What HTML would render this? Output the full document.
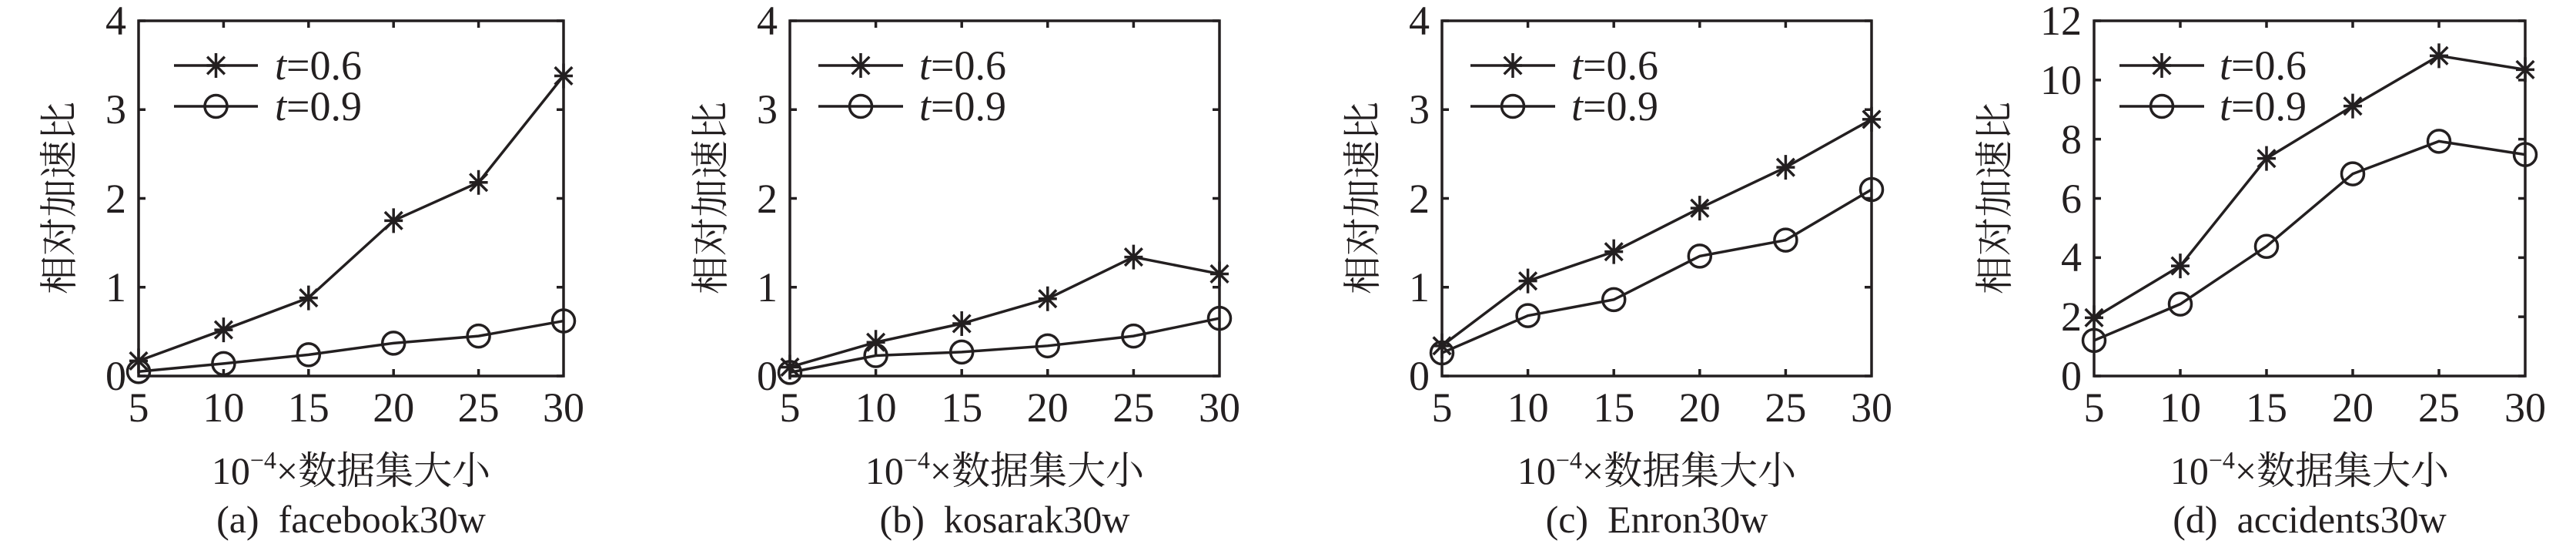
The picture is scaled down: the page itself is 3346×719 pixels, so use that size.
<!DOCTYPE html>
<html><head><meta charset="utf-8"><style>
html,body{margin:0;padding:0;background:#fff;overflow:hidden;}
svg{display:block;}
text{font-family:"Liberation Serif","Noto Serif CJK SC",serif;fill:#231f20;}
.t{font-size:54px;}
.c{font-size:50px;}
.cj{font-family:"Liberation Serif","Noto Serif CJK SC",serif;font-size:50px;}
</style></head><body>
<svg id="s" width="3346" height="719" viewBox="0 0 3346 719" xmlns="http://www.w3.org/2000/svg">
<rect width="3346" height="719" fill="#fff"/>
<!-- panel a -->
<g transform="translate(180,0)">
<g class="t" text-anchor="end"><text x="-16" y="506">0</text><text x="-16" y="391">1</text><text x="-16" y="276">2</text><text x="-16" y="160">3</text><text x="-16" y="45">4</text></g>
<g class="t" text-anchor="middle"><text x="0" y="547">5</text><text x="110.4" y="547">10</text><text x="220.8" y="547">15</text><text x="331.2" y="547">20</text><text x="441.6" y="547">25</text><text x="552" y="547">30</text></g>
<text class="cj" transform="translate(-86,257) rotate(-90)" text-anchor="middle">相对加速比</text>
<text class="cj" x="276" y="628" text-anchor="middle">10<tspan font-size="32" dy="-20">−4</tspan><tspan dy="20">×数据集大小</tspan></text>
<text class="c" x="276" y="691" text-anchor="middle" xml:space="preserve">(a)  facebook30w</text>
<text class="t" x="177" y="103"><tspan font-style="italic">t</tspan>=0.6</text>
<text class="t" x="177" y="156"><tspan font-style="italic">t</tspan>=0.9</text>
</g>
<!-- panel b -->
<g transform="translate(1026,0)">
<g class="t" text-anchor="end"><text x="-16" y="506">0</text><text x="-16" y="391">1</text><text x="-16" y="276">2</text><text x="-16" y="160">3</text><text x="-16" y="45">4</text></g>
<g class="t" text-anchor="middle"><text x="0" y="547">5</text><text x="111.6" y="547">10</text><text x="223.2" y="547">15</text><text x="334.8" y="547">20</text><text x="446.4" y="547">25</text><text x="558" y="547">30</text></g>
<text class="cj" transform="translate(-86,257) rotate(-90)" text-anchor="middle">相对加速比</text>
<text class="cj" x="279" y="628" text-anchor="middle">10<tspan font-size="32" dy="-20">−4</tspan><tspan dy="20">×数据集大小</tspan></text>
<text class="c" x="279" y="691" text-anchor="middle" xml:space="preserve">(b)  kosarak30w</text>
<text class="t" x="168" y="103"><tspan font-style="italic">t</tspan>=0.6</text>
<text class="t" x="168" y="156"><tspan font-style="italic">t</tspan>=0.9</text>
</g>
<!-- panel c -->
<g transform="translate(1873,0)">
<g class="t" text-anchor="end"><text x="-16" y="506">0</text><text x="-16" y="391">1</text><text x="-16" y="276">2</text><text x="-16" y="160">3</text><text x="-16" y="45">4</text></g>
<g class="t" text-anchor="middle"><text x="0" y="547">5</text><text x="111.6" y="547">10</text><text x="223.2" y="547">15</text><text x="334.8" y="547">20</text><text x="446.4" y="547">25</text><text x="558" y="547">30</text></g>
<text class="cj" transform="translate(-86,257) rotate(-90)" text-anchor="middle">相对加速比</text>
<text class="cj" x="279" y="628" text-anchor="middle">10<tspan font-size="32" dy="-20">−4</tspan><tspan dy="20">×数据集大小</tspan></text>
<text class="c" x="279" y="691" text-anchor="middle" xml:space="preserve">(c)  Enron30w</text>
<text class="t" x="168" y="103"><tspan font-style="italic">t</tspan>=0.6</text>
<text class="t" x="168" y="156"><tspan font-style="italic">t</tspan>=0.9</text>
</g>
<!-- panel d -->
<g transform="translate(2720,0)">
<g class="t" text-anchor="end"><text x="-16" y="506">0</text><text x="-16" y="429">2</text><text x="-16" y="352">4</text><text x="-16" y="276">6</text><text x="-16" y="199">8</text><text x="-16" y="122">10</text><text x="-16" y="45">12</text></g>
<g class="t" text-anchor="middle"><text x="0" y="547">5</text><text x="112" y="547">10</text><text x="224" y="547">15</text><text x="336" y="547">20</text><text x="448" y="547">25</text><text x="560" y="547">30</text></g>
<text class="cj" transform="translate(-112,257) rotate(-90)" text-anchor="middle">相对加速比</text>
<text class="cj" x="280" y="628" text-anchor="middle">10<tspan font-size="32" dy="-20">−4</tspan><tspan dy="20">×数据集大小</tspan></text>
<text class="c" x="280" y="691" text-anchor="middle" xml:space="preserve">(d)  accidents30w</text>
<text class="t" x="163" y="103"><tspan font-style="italic">t</tspan>=0.6</text>
<text class="t" x="163" y="156"><tspan font-style="italic">t</tspan>=0.9</text>
</g>
<g id="geo" stroke="#231f20" stroke-width="3.5" fill="none"></g>
</svg>
<script>
var P=[
 {l:180,w:552,m:4,yt:[0,1,2,3,4],lg:[46,155],a:[0.17,0.52,0.88,1.75,2.18,3.38],b:[0.05,0.14,0.24,0.37,0.45,0.62]},
 {l:1026,w:558,m:4,yt:[0,1,2,3,4],lg:[37,147],a:[0.1,0.38,0.59,0.87,1.34,1.15],b:[0.04,0.23,0.27,0.34,0.45,0.65]},
 {l:1873,w:558,m:4,yt:[0,1,2,3,4],lg:[37,147],a:[0.34,1.07,1.40,1.89,2.35,2.89],b:[0.26,0.68,0.86,1.35,1.53,2.10]},
 {l:2720,w:560,m:12,yt:[0,2,4,6,8,10,12],lg:[33,143],a:[1.97,3.72,7.35,9.12,10.82,10.35],b:[1.2,2.43,4.38,6.83,7.93,7.48]}
];
var T=27,B=488,g=document.getElementById('geo'),h='';
function star(x,y){var r=16,s='';for(var k=0;k<4;k++){var a=k*Math.PI/4,dx=r*Math.cos(a),dy=r*Math.sin(a);if(k==0){dx=r*0.75;}s+='M'+(x-dx)+' '+(y-dy)+'L'+(x+dx)+' '+(y+dy);}return '<path d="'+s+'"/>';}
function circ(x,y){return '<circle cx="'+x+'" cy="'+y+'" r="14.5" fill="none"/>';}
P.forEach(function(p){
 var L=p.l,R=p.l+p.w;
 h+='<rect x="'+L+'" y="'+T+'" width="'+p.w+'" height="'+(B-T)+'"/>';
 for(var i=1;i<5;i++){var x=L+i*p.w/5;h+='<path d="M'+x+' '+B+'v-9M'+x+' '+T+'v9"/>';}
 p.yt.forEach(function(v){var y=B-(B-T)*v/p.m;h+='<path d="M'+L+' '+y+'h9M'+R+' '+y+'h-9"/>';});
 [p.a,p.b].forEach(function(d,si){
  var pts=d.map(function(v,i){return [L+i*p.w/5,B-(B-T)*v/p.m];});
  h+='<polyline points="'+pts.map(function(q){return q.join(',')}).join(' ')+'"/>';
  pts.forEach(function(q){h+=si?circ(q[0],q[1]):star(q[0],q[1]);});
  var ly=si?138:85,x1=L+p.lg[0],x2=L+p.lg[1],xm=(x1+x2)/2;
  h+='<path d="M'+x1+' '+ly+'H'+x2+'"/>'+(si?circ(xm,ly):star(xm,ly));
 });
});
g.innerHTML=h;
</script>
</body></html>
